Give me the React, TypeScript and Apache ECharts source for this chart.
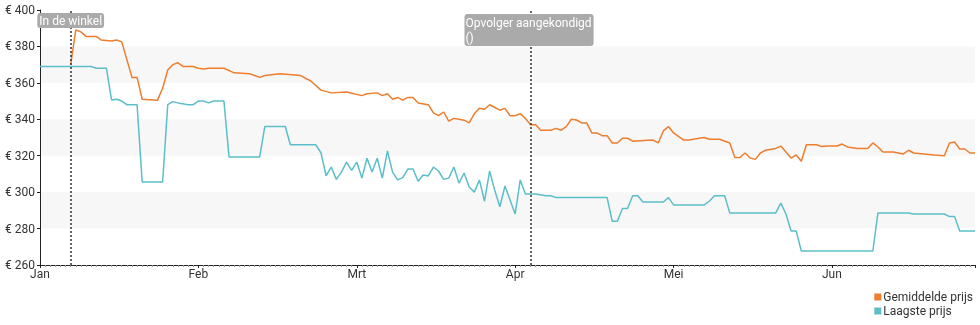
import React, { useEffect, useRef } from "react";
import * as echarts from "echarts";

const YEAR = 2019;
const monthLabels = ["Jan", "Feb", "Mrt", "Apr", "Mei", "Jun"];
const seriesNames = ["Gemiddelde prijs", "Laagste prijs"];

const avgDates = ["01-07","01-08","01-09","01-10","01-12","01-13","01-15","01-16","01-17","01-19","01-20","01-21","01-24","01-25","01-26","01-27","01-28","01-29","01-31",
"02-01","02-02","02-03","02-06","02-08","02-11","02-13","02-14","02-17","02-21","02-23","02-25","02-27",
"03-02","03-05","03-06","03-08","03-09","03-10","03-11","03-12","03-13","03-14","03-15","03-16","03-18","03-19","03-20","03-21","03-22","03-23","03-24","03-25","03-26","03-27","03-28","03-29","03-30",
"04-01","04-02","04-03","04-04","04-05","04-06","04-07","04-08","04-09","04-11","04-12","04-13","04-14","04-15","04-16","04-17","04-18","04-19","04-20","04-21","04-22","04-23","04-24","04-25","04-26","04-27","04-30",
"05-01","05-02","05-03","05-04","05-05","05-07","05-08","05-10","05-11","05-12","05-14","05-16","05-17","05-18","05-19","05-20","05-21","05-22","05-23","05-25","05-26","05-27","05-28","05-29","05-30","05-31",
"06-02","06-03","06-04","06-06","06-07","06-08","06-10","06-12","06-13","06-14","06-15","06-17","06-18","06-19","06-20","06-21","06-23","06-25","06-27","06-28","06-29","06-30",
"07-01","07-02","07-03"];
const avgPrices = [370,389,388,385.5,385.5,383.5,383,383.5,382.5,363,363,351,350.5,357,367,370,371,369,369,
368,367.6,368,368,365.5,365,363,364,365,364,361,356,354.5,
355,353,354,354.5,353,354,351,352,350.5,352,352,349,348,343.5,342,344,339,340.5,340,339.5,338,343,346,345.5,348,
345,346,342,342,343,340.5,337,337,334,334,335,334,336,340,339.6,338,338,332.5,332.5,331,331,327,327,329.6,329.6,328,328.5,
328.6,327,333.6,336,332.5,328.6,328.6,329.6,330,329,329,327,319,319,321.5,318.7,318,321.5,323,324,325.3,322,318.7,320.4,317,326,
326,325,325.3,325.3,326.4,324.8,324,324,327,324.8,322,322,321.5,321,323,321.5,321,320.4,320,327,327.5,323.7,
323.7,321.5,321.5];

const lowDates = ["01-01","01-11","01-12","01-14","01-15","01-16","01-17","01-18","01-20","01-21","01-25","01-26","01-27","01-28","01-30","01-31",
"02-01","02-02","02-03","02-04","02-06","02-07","02-13","02-14","02-18","02-19","02-24","02-25","02-26","02-27","02-28",
"03-01","03-02","03-03","03-04","03-05","03-06","03-07","03-08","03-09","03-10","03-11","03-12","03-13","03-14","03-15","03-16","03-17","03-18","03-19","03-20","03-21","03-22","03-23","03-24","03-25","03-26","03-27","03-28","03-29","03-30","03-31",
"04-01","04-02","04-03","04-04","04-05","04-06","04-08","04-10","04-11","04-12","04-22","04-23","04-24","04-25","04-26","04-27","04-28","04-29",
"05-03","05-04","05-05","05-11","05-12","05-13","05-15","05-16","05-25","05-26","05-27","05-28","05-29","05-30",
"06-13","06-14","06-20","06-21","06-27","06-28","06-29","06-30","07-03"];
const lowPrices = [369,369,368,368,350.6,351,350,348,348,305.6,305.6,348,349.7,349,348,348,
350,350,349,350,350,319.3,319.3,336,336,326,326,321.5,309,313.8,307,
311,316.5,312,316.5,307.7,318.6,311,318.6,307.7,322.6,311,306.7,308,312.7,312.7,306,309.4,308.9,313.8,311.6,307,307.7,313.8,305,310.5,302.8,300,306.7,295,311.6,301,
292,303.4,295.7,288,306.7,299,299,298,298,297,297,284,284,291,291,298,298,294.6,
294.6,297,293,293,295,298,298,288.6,288.6,294,288,278.7,278.7,267.7,
267.7,288.6,288.6,288,288,286.6,286.6,278.7,278.7];

const markerDates = ["01-07", "04-07"];
const markerLabels = ["In de winkel", "Opvolger aangekondigd\n()"];

const toDay = (s: string) => {
  const [m, d] = s.split("-").map(Number);
  return (Date.UTC(YEAR, m - 1, d) - Date.UTC(YEAR, 0, 1)) / 86400000;
};

const FONT = "Roboto, sans-serif";

export default function App() {
  const ref = useRef<HTMLDivElement>(null);
  useEffect(() => {
    const chart = echarts.init(ref.current!, null, { renderer: "svg" });
    const avgData = avgDates.map((d, i) => [toDay(d), avgPrices[i]]);
    const lowData = lowDates.map((d, i) => [toDay(d), lowPrices[i]]);
    chart.setOption({
      animation: false,
      textStyle: { fontFamily: FONT },
      grid: { left: 40, right: 5, top: 10, bottom: 60, containLabel: false },
      xAxis: {
        type: "value",
        min: 0,
        max: 183,
        interval: 31,
        axisLine: { lineStyle: { color: "#222", width: 1 } },
        axisTick: { show: true, length: 3, lineStyle: { color: "#222" } },
        minorTick: { show: true, splitNumber: 31, length: 2, lineStyle: { color: "#999" } },
        splitLine: { show: false },
        axisLabel: {
          color: "#333",
          fontSize: 12,
          fontFamily: FONT,
          margin: 3,
          showMaxLabel: false,
          formatter: (v: number) => (v % 31 === 0 ? monthLabels[v / 31] ?? "" : ""),
        },
      },
      yAxis: {
        type: "value",
        min: 260,
        max: 400,
        interval: 20,
        axisLine: { show: true, lineStyle: { color: "#222", width: 1 } },
        axisTick: { show: true, length: 3, lineStyle: { color: "#222" } },
        splitLine: { show: false },
        splitArea: { show: true, areaStyle: { color: ["rgba(255,255,255,0)", "#f7f7f7"] } },
        axisLabel: {
          color: "#333",
          fontSize: 12,
          fontFamily: FONT,
          margin: 5,
          formatter: (v: number) => "€ " + v,
        },
      },
      legend: {
        orient: "vertical",
        right: 7,
        top: 290,
        padding: 0,
        align: "left",
        icon: "rect",
        itemWidth: 7,
        itemHeight: 7,
        itemGap: 0,
        textStyle: { color: "#333", fontSize: 12, lineHeight: 14, fontFamily: FONT, padding: [0, 0, 0, -3] },
        data: seriesNames,
      },
      series: [
        {
          name: seriesNames[0],
          type: "line",
          data: avgData,
          showSymbol: false,
          symbol: "none",
          color: "#ee7d2e",
          lineStyle: { width: 1.5, color: "#ee7d2e" },
          z: 3,
          markLine: {
            silent: true,
            symbol: ["none", "none"],
            label: { show: false },
            lineStyle: { type: [2, 2], color: "#333", width: 1.5 },
            data: markerDates.map((d) => ({ xAxis: toDay(d) })),
          },
        },
        {
          name: seriesNames[1],
          type: "line",
          data: lowData,
          showSymbol: false,
          symbol: "none",
          color: "#5cbec9",
          lineStyle: { width: 1.5, color: "#5cbec9" },
          z: 2,
        },
      ],
    });
    const px = markerDates.map((d) => chart.convertToPixel({ xAxisIndex: 0 }, toDay(d)) as number);
    chart.setOption({
      graphic: [
        {
          type: "text",
          x: px[0],
          y: 13,
          z: 100,
          style: {
            text: markerLabels[0],
            align: "center",
            verticalAlign: "top",
            fill: "#fff",
            font: "12px Roboto",
            backgroundColor: "#aaa",
            padding: [1, 2, 1, 2],
            borderRadius: 3,
            lineHeight: 13,
          },
        },
        {
          type: "text",
          x: px[1] - 66,
          y: 14,
          z: 100,
          style: {
            text: markerLabels[1],
            align: "left",
            verticalAlign: "top",
            fill: "#fff",
            font: "12px Roboto",
            backgroundColor: "#aaa",
            padding: [1, 2, 1, 1],
            borderRadius: 3,
            lineHeight: 15,
          },
        },
      ],
    });
    return () => chart.dispose();
  }, []);
  return (
    <div
      ref={ref}
      style={{ position: "fixed", left: 0, top: 0, width: 980, height: 325 }}
    />
  );
}
